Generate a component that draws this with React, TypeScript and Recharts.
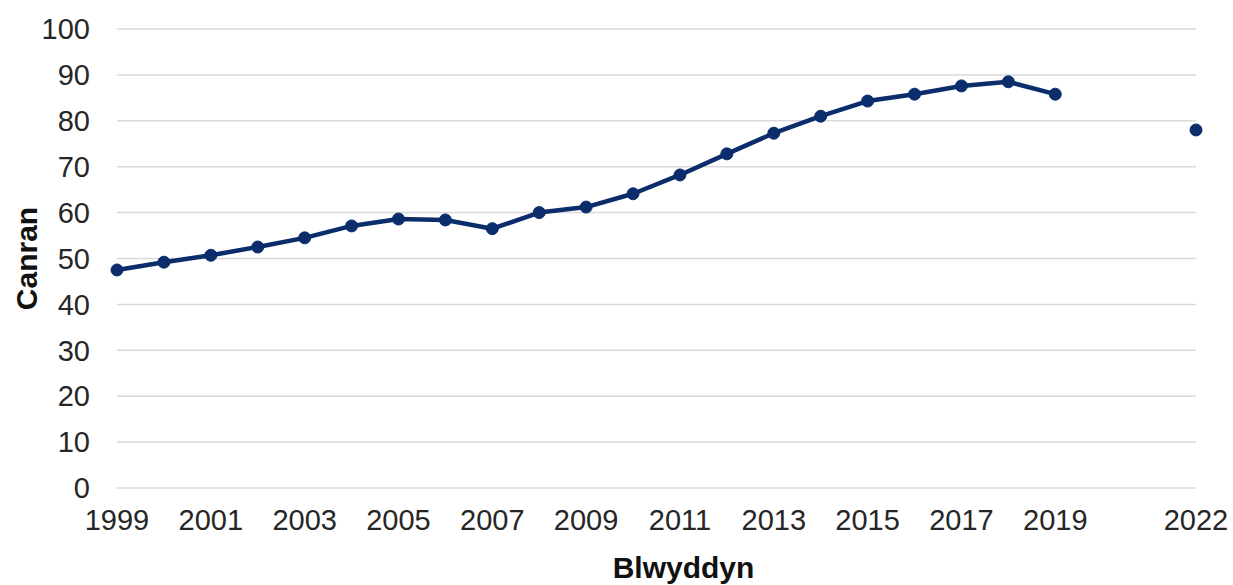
import { LineChart, Line, XAxis, YAxis, CartesianGrid } from 'recharts'

// Blynyddoedd a chanrannau (dim data ar gyfer 2020 a 2021)
const years = [
  1999, 2000, 2001, 2002, 2003, 2004, 2005, 2006, 2007, 2008, 2009, 2010,
  2011, 2012, 2013, 2014, 2015, 2016, 2017, 2018, 2019, 2020, 2021, 2022,
]
const canran: (number | null)[] = [
  47.5, 49.2, 50.7, 52.5, 54.5, 57.1, 58.6, 58.4, 56.5, 60.0, 61.2, 64.1,
  68.2, 72.8, 77.3, 81.0, 84.3, 85.8, 87.6, 88.5, 85.8, null, null, 78.0,
]
const xTicks = [1999, 2001, 2003, 2005, 2007, 2009, 2011, 2013, 2015, 2017, 2019, 2022]
const yTicks = [0, 10, 20, 30, 40, 50, 60, 70, 80, 90, 100]

const NAVY = '#0b2d6b'
const FONT = '"Liberation Sans", Arial, sans-serif'

const data = years.map((year, i) => ({ year, value: canran[i] }))

export default function App() {
  return (
    <div style={{ position: 'absolute', left: 0, top: 0, width: 1233, height: 585, fontFamily: FONT }}>
      <LineChart
        width={1233}
        height={585}
        data={data}
        margin={{ top: 29, right: 37, left: 0, bottom: 0 }}
      >
        <CartesianGrid vertical={false} stroke="#d9d9d9" strokeWidth={1.5} />
        <XAxis
          dataKey="year"
          type="number"
          domain={[1999, 2022]}
          ticks={xTicks}
          interval={0}
          axisLine={false}
          tickLine={false}
          tickSize={0}
          tickMargin={21}
          height={97}
          tick={{ fontSize: 29, fill: '#262626', fontFamily: FONT }}
          label={{
            value: 'Blwyddyn',
            position: 'insideBottom',
            offset: 7,
            dx: 27,
            style: { fontSize: 30, fontWeight: 'bold', fill: '#111', fontFamily: FONT },
          }}
        />
        <YAxis
          domain={[0, 100]}
          ticks={yTicks}
          interval={0}
          axisLine={false}
          tickLine={false}
          tickSize={0}
          tickMargin={27}
          width={117}
          tick={{ fontSize: 29, fill: '#262626', fontFamily: FONT }}
          label={{
            value: 'Canran',
            angle: -90,
            position: 'insideLeft',
            offset: 23,
            dx: 3,
            style: { fontSize: 30, fontWeight: 'bold', fill: '#111', textAnchor: 'middle', fontFamily: FONT },
          }}
        />
        <Line
          type="linear"
          dataKey="value"
          stroke={NAVY}
          strokeWidth={4.5}
          strokeLinejoin="round"
          dot={{ r: 6, fill: NAVY, stroke: NAVY, strokeWidth: 1 }}
          connectNulls={false}
          isAnimationActive={false}
        />
      </LineChart>
    </div>
  )
}
